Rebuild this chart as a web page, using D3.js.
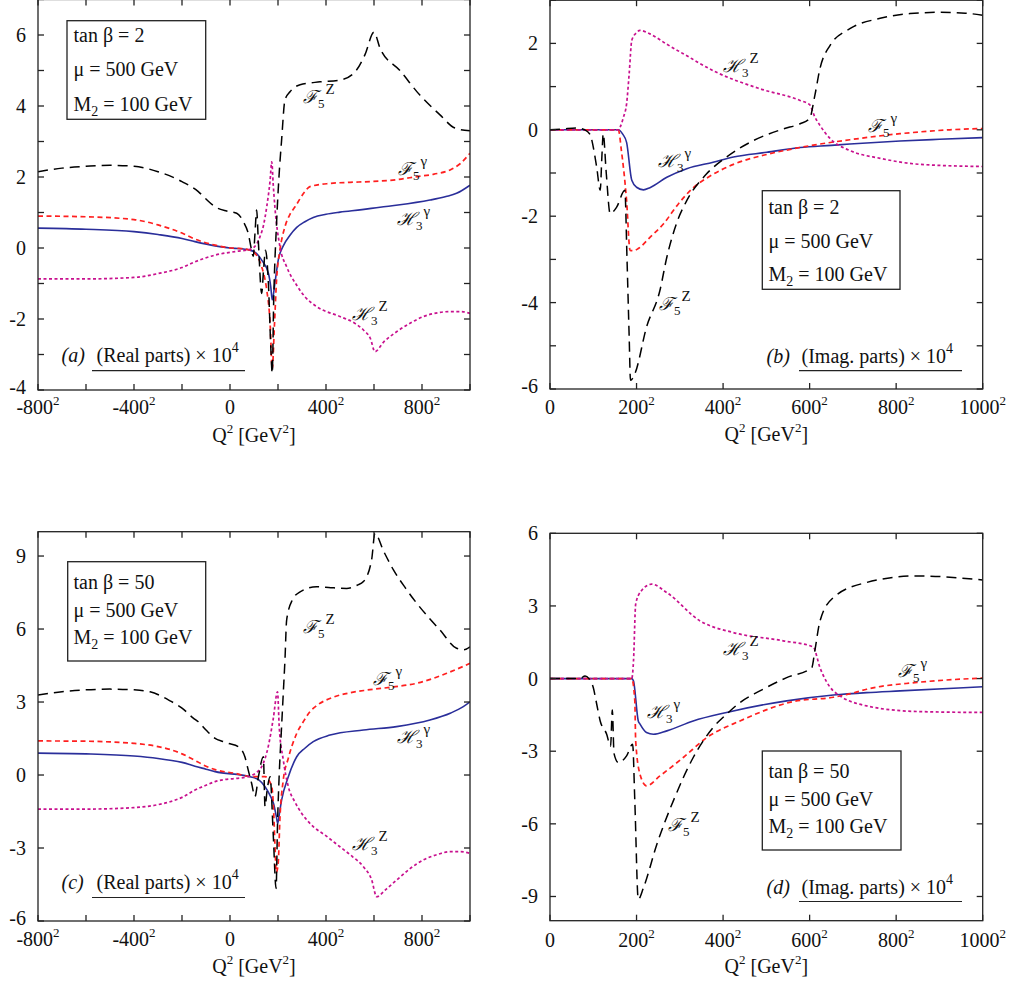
<!DOCTYPE html>
<html><head><meta charset="utf-8">
<script src="https://cdn.jsdelivr.net/npm/d3@7"></script>
<style>
body{margin:0;background:#fff}
svg{display:block}
text{font-family:"Liberation Serif","Times New Roman",serif;fill:#111}
.lbl{font-family:"DejaVu Serif","Liberation Serif",serif}
</style></head><body>
<svg id="chart" width="1012" height="986"></svg>
<script>
// ---------- tick values ----------
const leftXTicks = [-800,-600,-400,-200,0,200,400,600,800,1000];
const leftXLabels = [-800,-400,0,400,800];
const rightXTicks = [0,200,400,600,800,1000];
const rightXLabels = [0,200,400,600,800,1000];
const aYTicks = [-4,-3,-2,-1,0,1,2,3,4,5,6,7];
const aYLabels = [-4,-2,0,2,4,6];
const bYTicks = [-6,-5,-4,-3,-2,-1,0,1,2,3];
const bYLabels = [-6,-4,-2,0,2];
const cYTicks = [-6,-3,0,3,6,9];
const dYTicks = [-9,-6,-3,0,3,6];

// ---------- series: [Q (GeV, signed), value x 10^4] ----------
// (a) real parts, tan beta = 2
const aF5Z = [[-800,2.15],[-700,2.25],[-600,2.3],[-500,2.33],[-400,2.3],[-300,2.15],[-200,1.87],[-132,1.59],[-100,1.38],[-62,1.16],[-14,1.04],[28,0.98],[56,0.74],[76,0.41],[90,-0.06],[97,-0.24],[104,0.4],[111,1.07],[118,0.2],[132,-1.28],[140,-0.6],[148,-0.06],[160,-1.0],[170,-2.8],[176,-3.53],[182,-1.5],[194,0.7],[204,2.0],[215,3.04],[229,4.17],[250,4.4],[292,4.6],[375,4.68],[458,4.73],[521,4.96],[562,5.44],[600,6.08],[625,5.63],[708,5.0],[792,4.3],[875,3.75],[937,3.38],[1000,3.3]];
const aF5g = [[-800,0.9],[-600,0.88],[-400,0.8],[-300,0.65],[-200,0.42],[-146,0.25],[-62,0.08],[0,0.0],[35,-0.01],[83,-0.06],[110,-0.2],[132,-0.53],[153,-1.18],[167,-2.1],[176,-3.4],[185,-2.2],[194,-0.9],[208,-0.06],[229,0.6],[250,0.95],[271,1.16],[312,1.59],[333,1.73],[417,1.82],[500,1.85],[583,1.87],[700,1.93],[778,2.01],[850,2.08],[917,2.2],[960,2.38],[1000,2.67]];
const aH3g = [[-800,0.56],[-600,0.53],[-400,0.46],[-300,0.38],[-200,0.27],[-146,0.18],[-62,0.06],[0,0.0],[21,-0.01],[83,-0.06],[110,-0.15],[132,-0.34],[160,-0.71],[170,-1.1],[176,-1.46],[187,-1.0],[201,-0.34],[222,0.06],[250,0.36],[278,0.58],[312,0.74],[347,0.86],[400,0.95],[458,1.01],[550,1.08],[625,1.15],[700,1.21],[833,1.35],[900,1.45],[944,1.54],[1000,1.77]];
const aH3Z = [[-800,-0.87],[-600,-0.87],[-400,-0.83],[-300,-0.72],[-200,-0.55],[-146,-0.39],[-62,-0.2],[21,-0.1],[83,-0.04],[110,0.1],[125,0.32],[140,0.65],[153,1.16],[167,1.9],[174,2.43],[180,1.8],[187,1.16],[208,0.04],[236,-0.53],[278,-1.05],[312,-1.37],[361,-1.65],[458,-1.93],[520,-2.12],[556,-2.31],[585,-2.55],[604,-2.92],[640,-2.65],[694,-2.36],[750,-2.12],[806,-1.93],[870,-1.82],[917,-1.79],[960,-1.79],[1000,-1.84]];

// (b) imaginary parts, tan beta = 2
const bF5Z = [[0,0],[30,0.02],[62,0.04],[80,0.0],[92,-0.1],[108,-0.87],[116,-1.4],[120,-0.6],[123,-0.09],[130,-1.0],[139,-1.94],[154,-1.79],[173,-1.4],[178,-3.0],[183,-4.8],[186,-5.8],[196,-5.65],[223,-4.57],[254,-3.72],[270,-2.95],[293,-2.15],[316,-1.64],[362,-1.02],[408,-0.63],[470,-0.25],[539,0.02],[578,0.14],[600,0.26],[612,0.79],[624,1.42],[647,1.95],[693,2.34],[763,2.58],[832,2.69],[901,2.72],[960,2.7],[1000,2.65]];
const bF5g = [[0,0],[158,0],[165,-0.48],[177,-1.64],[185,-2.79],[193,-2.8],[204,-2.75],[231,-2.49],[262,-2.18],[297,-1.71],[330,-1.35],[370,-1.07],[424,-0.8],[501,-0.57],[562,-0.44],[600,-0.37],[693,-0.23],[809,-0.09],[924,0.0],[1000,0.03]];
const bH3g = [[0,0],[158,0],[168,-0.1],[177,-0.29],[189,-1.17],[200,-1.33],[216,-1.39],[231,-1.34],[270,-1.1],[316,-0.9],[377,-0.75],[424,-0.63],[501,-0.52],[578,-0.41],[650,-0.36],[693,-0.33],[809,-0.26],[900,-0.22],[1000,-0.18]];
const bH3Z = [[0,0],[158,0],[162,0.06],[170,0.3],[177,0.6],[183,1.3],[189,2.07],[200,2.25],[208,2.3],[231,2.22],[270,1.98],[308,1.76],[385,1.33],[485,0.95],[578,0.68],[600,0.58],[612,0.3],[624,0.1],[647,-0.2],[693,-0.48],[763,-0.66],[855,-0.8],[1000,-0.85]];

// (c) real parts, tan beta = 50
const cF5Z = [[-800,3.29],[-700,3.42],[-600,3.5],[-500,3.53],[-400,3.5],[-333,3.42],[-250,3.05],[-200,2.75],[-153,2.34],[-132,2.19],[-100,1.85],[-62,1.51],[-30,1.38],[-7,1.3],[35,1.16],[62,0.75],[76,0.2],[90,-0.34],[104,-0.89],[118,-0.1],[139,0.75],[146,-1.3],[155,-0.6],[167,-0.07],[180,-2.4],[192,-4.66],[198,-2.0],[205,0.0],[215,2.0],[222,3.36],[229,4.73],[236,6.37],[260,7.2],[292,7.53],[361,7.74],[420,7.7],[486,7.67],[530,7.8],[556,7.95],[590,8.84],[604,9.93],[640,9.2],[681,8.43],[730,7.7],[778,7.06],[830,6.45],[875,5.96],[944,5.21],[975,5.15],[1000,5.27]];
const cF5g = [[-800,1.4],[-600,1.39],[-500,1.36],[-400,1.3],[-300,1.17],[-250,1.05],[-200,0.87],[-146,0.6],[-100,0.36],[-62,0.22],[21,0.07],[90,-0.07],[146,-0.07],[174,-0.48],[182,-1.5],[187,-2.8],[193,-4.0],[201,-3.6],[208,-1.8],[222,-0.2],[243,0.69],[278,1.71],[306,2.2],[333,2.6],[361,2.85],[431,3.2],[500,3.38],[569,3.49],[680,3.62],[778,3.77],[903,4.18],[1000,4.59]];
const cH3g = [[-800,0.9],[-600,0.87],[-400,0.78],[-300,0.68],[-250,0.61],[-200,0.52],[-146,0.36],[-100,0.24],[-62,0.14],[83,-0.07],[120,-0.2],[146,-0.48],[170,-0.9],[181,-1.16],[193,-1.7],[199,-1.99],[207,-1.5],[215,-1.03],[243,-0.07],[278,0.75],[312,1.1],[347,1.37],[417,1.64],[556,1.85],[694,1.99],[833,2.26],[920,2.55],[972,2.81],[1000,3.01]];
const cH3Z = [[-800,-1.4],[-600,-1.4],[-400,-1.34],[-300,-1.22],[-250,-1.1],[-200,-0.92],[-146,-0.62],[-100,-0.42],[-62,-0.27],[83,-0.04],[110,0.1],[132,0.34],[160,1.2],[180,2.3],[198,3.42],[205,2.0],[222,0.62],[243,-0.48],[270,-1.1],[299,-1.58],[347,-2.12],[400,-2.5],[458,-2.95],[510,-3.35],[556,-3.77],[590,-4.3],[611,-5.0],[650,-4.7],[694,-4.32],[750,-3.85],[806,-3.49],[870,-3.25],[917,-3.15],[960,-3.15],[1000,-3.22]];

// (d) imaginary parts, tan beta = 50
const dF5Z = [[0,0],[69,0],[81,0.11],[90,0.0],[100,-0.37],[108,-1.06],[116,-1.75],[131,-2.3],[140,-2.8],[144,-1.3],[148,-3.1],[158,-3.47],[177,-3.19],[191,-2.71],[196,-5.05],[204,-9.12],[216,-8.64],[247,-6.84],[285,-5.05],[331,-3.26],[377,-2.02],[408,-1.47],[439,-0.99],[485,-0.51],[547,0.04],[605,0.45],[612,1.14],[624,2.38],[655,3.35],[732,3.97],[848,4.24],[1000,4.07]];
const dF5g = [[0,0],[189,0],[196,-0.92],[198,-2.57],[208,-3.95],[223,-4.43],[254,-4.02],[308,-3.26],[362,-2.44],[439,-1.75],[562,-0.95],[655,-0.77],[700,-0.6],[732,-0.44],[848,-0.16],[1000,0.02]];
const dH3g = [[0,0],[189,0],[193,-0.1],[204,-1.75],[208,-1.88],[223,-2.23],[239,-2.3],[270,-2.16],[331,-1.75],[408,-1.4],[547,-0.92],[655,-0.68],[732,-0.58],[809,-0.51],[1000,-0.34]];
const dH3Z = [[0,0],[189,0],[193,0.73],[198,3.07],[210,3.6],[235,3.9],[270,3.55],[347,2.38],[424,1.9],[539,1.56],[608,1.31],[624,0.45],[655,-0.51],[732,-1.13],[848,-1.36],[1000,-1.4]];

// ---------- text ----------
const legendA = ["tan β = 2","μ = 500 GeV","M|2| = 100 GeV"];
const legendC = ["tan β = 50","μ = 500 GeV","M|2| = 100 GeV"];
const partReal = "(Real parts) × 10";
const partImag = "(Imag. parts) × 10";

// ---------- styles ----------
const styles = {
  F5Z:{stroke:"#000000", dash:"10,6", w:1.5},
  F5g:{stroke:"#ff1f1f", dash:"5,3.5", w:1.7},
  H3g:{stroke:"#2a2e9a", dash:null, w:1.6},
  H3Z:{stroke:"#c8108e", dash:"3,2.5", w:1.7}
};
const names = {F5Z:["ℱ","5","Z"],F5g:["ℱ","5","γ"],H3g:["ℋ","3","γ"],H3Z:["ℋ","3","Z"]};

const panels = [
 {left:38,right:470,top:-0.5,bottom:390,xDom:[-800,1000],yDom:[-4,7],xTicks:leftXTicks,xLabels:leftXLabels,yTicks:aYTicks,yLabels:aYLabels,
  series:{F5Z:aF5Z,F5g:aF5g,H3g:aH3g,H3Z:aH3Z},
  legend:{lines:legendA,box:[67,20.7,205.7,119.3],tx:73.5,ty:[42,76,111]},
  tag:{t:"(a)",txt:partReal,tx:61.5,mx:96.5,y:362,ul:[92,245,370.7]},
  xLabY:414,axTitleY:442,
  labels:{F5Z:[303,103],F5g:[398,175],H3g:[397,225],H3Z:[352,320]}},
 {left:550,right:982.7,top:0.2,bottom:389,xDom:[0,1000],yDom:[-6,3],xTicks:rightXTicks,xLabels:rightXLabels,yTicks:bYTicks,yLabels:bYLabels,
  series:{F5Z:bF5Z,F5g:bF5g,H3g:bH3g,H3Z:bH3Z},
  legend:{lines:legendA,box:[762.3,190.7,900,289.3],tx:768.5,ty:[213.5,247.5,280.5]},
  tag:{t:"(b)",txt:partImag,tx:766.5,mx:801.5,y:363,ul:[799,962,370.7]},
  xLabY:413.5,axTitleY:441,
  labels:{F5Z:[659,310],F5g:[868,132],H3g:[658,167],H3Z:[723,72]}},
 {left:38,right:470,top:531.7,bottom:921,xDom:[-800,1000],yDom:[-6,10],xTicks:leftXTicks,xLabels:leftXLabels,yTicks:cYTicks,yLabels:cYTicks,
  series:{F5Z:cF5Z,F5g:cF5g,H3g:cH3g,H3Z:cH3Z},
  legend:{lines:legendC,box:[67.7,561.7,205.7,661],tx:73.5,ty:[588.5,617,644]},
  tag:{t:"(c)",txt:partReal,tx:61.5,mx:96.5,y:889,ul:[92,245,897.5]},
  xLabY:946,axTitleY:973,
  labels:{F5Z:[303,633],F5g:[373,685],H3g:[397,743],H3Z:[352,850]}},
 {left:550,right:982.7,top:533.3,bottom:920.7,xDom:[0,1000],yDom:[-10,6],xTicks:rightXTicks,xLabels:rightXLabels,yTicks:dYTicks,yLabels:dYTicks,
  series:{F5Z:dF5Z,F5g:dF5g,H3g:dH3g,H3Z:dH3Z},
  legend:{lines:legendC,box:[762.3,751,901,850],tx:768.5,ty:[777.5,806,833]},
  tag:{t:"(d)",txt:partImag,tx:766.5,mx:801.5,y:893.5,ul:[799,962,901.5]},
  xLabY:947,axTitleY:973,
  labels:{F5Z:[668,831],F5g:[898,677],H3g:[647,718],H3Z:[723,655]}}
];

const svg = d3.select("#chart");
const FS = 20;

panels.forEach(p => {
  const x = d3.scaleLinear().domain(p.xDom).range([p.left,p.right]);
  const y = d3.scaleLinear().domain(p.yDom).range([p.bottom,p.top]);
  const g = svg.append("g");

  const cid = "clip" + p.left + "_" + Math.round(p.top);
  svg.append("clipPath").attr("id",cid).append("rect")
    .attr("x",p.left).attr("y",Math.max(p.top,0)).attr("width",p.right-p.left).attr("height",p.bottom-Math.max(p.top,0));
  const line = d3.line().x(d=>x(d[0])).y(d=>y(d[1])).curve(d3.curveMonotoneX);
  ["H3g","F5g","H3Z","F5Z"].forEach(k => {
    const s = styles[k];
    g.append("path").datum(p.series[k]).attr("d",line).attr("clip-path",`url(#${cid})`)
      .attr("fill","none").attr("stroke",s.stroke).attr("stroke-width",s.w)
      .attr("stroke-dasharray",s.dash);
  });

  const tl = 6;
  const ax = g.append("g").attr("stroke","#222").attr("stroke-width",1.3);
  ax.append("rect").attr("x",p.left).attr("y",p.top).attr("width",p.right-p.left).attr("height",p.bottom-p.top).attr("fill","none");
  p.xTicks.forEach(t => {
    ax.append("line").attr("x1",x(t)).attr("x2",x(t)).attr("y1",p.bottom).attr("y2",p.bottom-tl);
    ax.append("line").attr("x1",x(t)).attr("x2",x(t)).attr("y1",p.top).attr("y2",p.top+tl);
  });
  p.yTicks.forEach(t => {
    ax.append("line").attr("x1",p.left).attr("x2",p.left+tl).attr("y1",y(t)).attr("y2",y(t));
    ax.append("line").attr("x1",p.right).attr("x2",p.right-tl).attr("y1",y(t)).attr("y2",y(t));
  });

  p.xLabels.forEach(t => {
    const tx = g.append("text").attr("x",x(t)).attr("y",p.xLabY).attr("text-anchor","middle").style("font-size",FS+"px");
    tx.append("tspan").text(t===0 ? "0" : String(t));
    if (t!==0) tx.append("tspan").attr("dy",-9).style("font-size","13px").text("2");
  });
  p.yLabels.forEach(t => {
    const isBottom = (t === p.yDom[0]);
    g.append("text").attr("x",p.left-12).attr("y",y(t)+(isBottom?4:7)).attr("text-anchor","end").style("font-size",FS+"px").text(String(t));
  });
  const at = g.append("text").attr("x",(p.left+p.right)/2).attr("y",p.axTitleY).attr("text-anchor","middle").style("font-size",FS+"px");
  at.append("tspan").text("Q");
  at.append("tspan").attr("dy",-9).style("font-size","13px").text("2");
  at.append("tspan").attr("dy",9).text(" [GeV");
  at.append("tspan").attr("dy",-9).style("font-size","13px").text("2");
  at.append("tspan").attr("dy",9).text("]");

  const b = p.legend.box;
  g.append("rect").attr("x",b[0]).attr("y",b[1]).attr("width",b[2]-b[0]).attr("height",b[3]-b[1])
    .attr("fill","#fff").attr("stroke","#222").attr("stroke-width",1.3);
  p.legend.lines.forEach((ln,i) => {
    const t = g.append("text").attr("x",p.legend.tx).attr("y",p.legend.ty[i]).style("font-size",FS+"px");
    const parts = ln.split("|");
    t.append("tspan").text(parts[0]);
    if (parts.length>1) {
      t.append("tspan").attr("dy",5).style("font-size","14px").text(parts[1]);
      t.append("tspan").attr("dy",-5).text(parts[2]);
    }
  });

  g.append("text").attr("x",p.tag.tx).attr("y",p.tag.y).style("font-size",FS+"px").style("font-style","italic").text(p.tag.t);
  const mt = g.append("text").attr("x",p.tag.mx).attr("y",p.tag.y).style("font-size",FS+"px");
  mt.append("tspan").text(p.tag.txt);
  mt.append("tspan").attr("dy",-10).style("font-size","14px").text("4");
  g.append("line").attr("x1",p.tag.ul[0]).attr("x2",p.tag.ul[1]).attr("y1",p.tag.ul[2]).attr("y2",p.tag.ul[2])
    .attr("stroke","#222").attr("stroke-width",1.2);

  Object.entries(p.labels).forEach(([k,pos]) => {
    const n = names[k];
    const t = g.append("text").attr("class","lbl").attr("x",pos[0]).attr("y",pos[1]);
    t.append("tspan").style("font-size","18px").style("font-style","italic").text(n[0]);
    t.append("tspan").attr("dy",5).style("font-size","13px").style("font-family","Liberation Serif").text(n[1]);
    t.append("tspan").attr("dy",-14).attr("dx",1).style("font-size","15px").style("font-family","Liberation Serif").text(n[2]);
  });
});
</script>
</body></html>
